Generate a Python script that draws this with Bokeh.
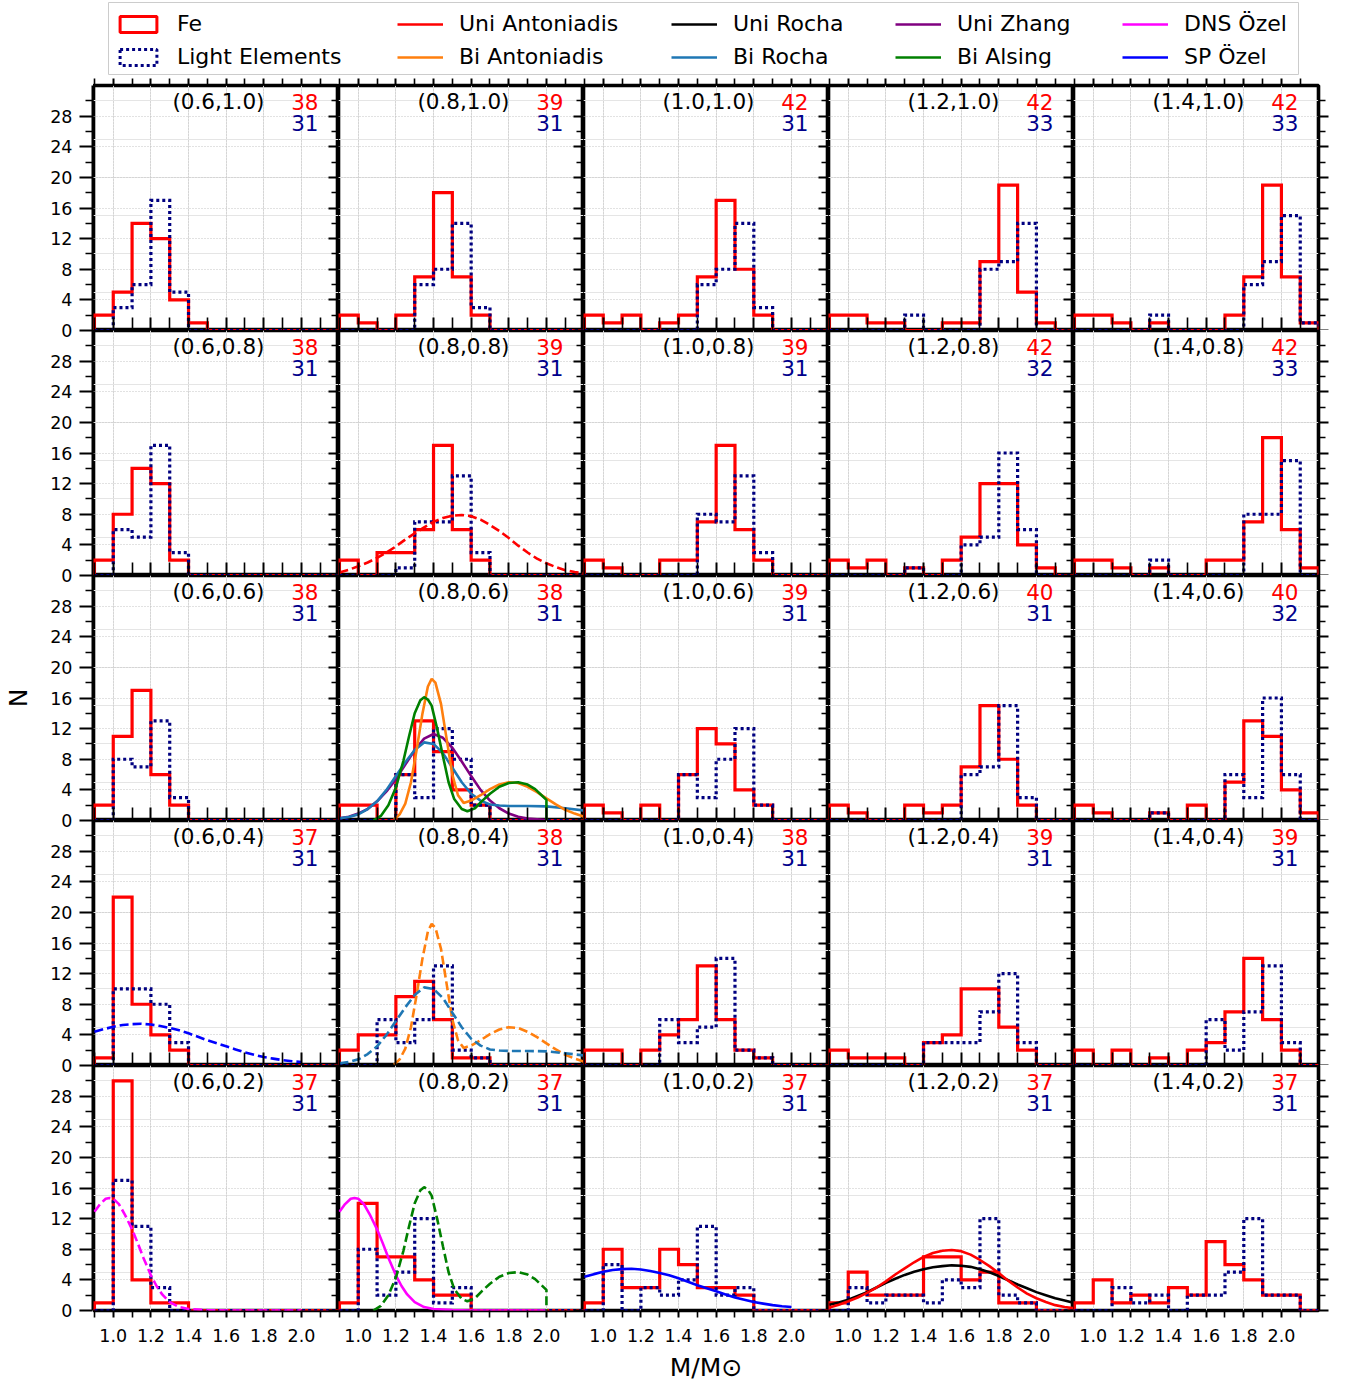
from bokeh.plotting import figure
from bokeh.layouts import gridplot, column, row
from bokeh.models import (Range1d, FixedTicker, LinearAxis, Grid, Legend, LegendItem,
                          NumeralTickFormatter, CustomJSTickFormatter)
from bokeh.embed import file_html
from bokeh.resources import INLINE
from bokeh.core.properties import value

# ---------------- data ----------------
BIN_EDGES = [0.9, 1.0, 1.1, 1.2, 1.3, 1.4, 1.5, 1.6, 1.7, 1.8, 1.9, 2.0, 2.1, 2.2]
COL_A = ["0.6", "0.8", "1.0", "1.2", "1.4"]
ROW_B = ["1.0", "0.8", "0.6", "0.4", "0.2"]

X_MAJOR = [1.0, 1.2, 1.4, 1.6, 1.8, 2.0]
X_MINOR = [0.9, 1.1, 1.3, 1.5, 1.7, 1.9, 2.1]
Y_MAJOR = [0, 4, 8, 12, 16, 20, 24, 28]
Y_MINOR = [2, 6, 10, 14, 18, 22, 26, 30]
Y_TOP = 32

# Fe counts per bin (13 bins, 0.9..2.2), one list per column a=0.6..1.4
FE_B10 = [[2, 5, 14, 12, 4, 1, 0, 0, 0, 0, 0, 0, 0],
          [2, 1, 0, 2, 7, 18, 7, 2, 0, 0, 0, 0, 0],
          [2, 1, 2, 0, 1, 2, 7, 17, 8, 2, 0, 0, 0],
          [2, 2, 1, 1, 0, 0, 1, 1, 9, 19, 5, 1, 0],
          [2, 2, 1, 0, 1, 0, 0, 0, 2, 7, 19, 7, 1]]
LE_B10 = [[0, 3, 6, 17, 5, 0, 0, 0, 0, 0, 0, 0, 0],
          [0, 0, 0, 0, 6, 8, 14, 3, 0, 0, 0, 0, 0],
          [0, 0, 0, 0, 0, 0, 6, 8, 14, 3, 0, 0, 0],
          [0, 0, 0, 0, 2, 0, 0, 0, 8, 9, 14, 0, 0],
          [0, 0, 0, 0, 2, 0, 0, 0, 0, 6, 9, 15, 1]]
FE_B08 = [[2, 8, 14, 12, 2, 0, 0, 0, 0, 0, 0, 0, 0],
          [2, 0, 3, 3, 6, 17, 6, 2, 0, 0, 0, 0, 0],
          [2, 1, 0, 0, 2, 2, 7, 17, 6, 2, 0, 0, 0],
          [2, 1, 2, 0, 1, 0, 2, 5, 12, 12, 4, 1, 0],
          [2, 2, 1, 0, 1, 0, 0, 2, 2, 7, 18, 6, 1]]
LE_B08 = [[0, 6, 5, 17, 3, 0, 0, 0, 0, 0, 0, 0, 0],
          [0, 0, 0, 1, 7, 7, 13, 3, 0, 0, 0, 0, 0],
          [0, 0, 0, 0, 0, 0, 8, 7, 13, 3, 0, 0, 0],
          [0, 0, 0, 0, 1, 0, 0, 4, 5, 16, 6, 0, 0],
          [0, 0, 0, 0, 2, 0, 0, 0, 0, 8, 8, 15, 0]]
FE_B06 = [[2, 11, 17, 6, 2, 0, 0, 0, 0, 0, 0, 0, 0],
          [2, 2, 0, 6, 13, 9, 4, 2, 0, 0, 0, 0, 0],
          [2, 1, 0, 2, 0, 6, 12, 10, 4, 2, 0, 0, 0],
          [2, 1, 0, 0, 2, 1, 2, 7, 15, 8, 2, 0, 0],
          [2, 1, 0, 0, 1, 0, 2, 0, 5, 13, 11, 4, 1]]
LE_B06 = [[0, 8, 7, 13, 3, 0, 0, 0, 0, 0, 0, 0, 0],
          [0, 0, 0, 6, 3, 12, 8, 2, 0, 0, 0, 0, 0],
          [0, 0, 0, 0, 0, 6, 3, 8, 12, 2, 0, 0, 0],
          [0, 0, 0, 0, 0, 0, 0, 6, 7, 15, 3, 0, 0],
          [0, 0, 0, 0, 1, 0, 0, 0, 6, 3, 16, 6, 0]]
FE_B04 = [[1, 22, 8, 4, 2, 0, 0, 0, 0, 0, 0, 0, 0],
          [2, 4, 4, 9, 11, 6, 1, 1, 0, 0, 0, 0, 0],
          [2, 2, 0, 2, 4, 6, 13, 6, 2, 1, 0, 0, 0],
          [2, 1, 1, 1, 0, 3, 4, 10, 10, 5, 2, 0, 0],
          [2, 0, 2, 0, 1, 0, 2, 3, 7, 14, 6, 2, 0]]
LE_B04 = [[0, 10, 10, 8, 3, 0, 0, 0, 0, 0, 0, 0, 0],
          [0, 0, 6, 3, 6, 13, 2, 1, 0, 0, 0, 0, 0],
          [0, 0, 0, 0, 6, 3, 5, 14, 2, 1, 0, 0, 0],
          [0, 0, 0, 0, 0, 3, 3, 3, 7, 12, 3, 0, 0],
          [0, 0, 0, 0, 0, 0, 0, 6, 2, 7, 13, 3, 0]]
FE_B02 = [[1, 30, 4, 1, 1, 0, 0, 0, 0, 0, 0, 0, 0],
          [1, 14, 7, 7, 4, 2, 2, 0, 0, 0, 0, 0, 0],
          [1, 8, 3, 3, 8, 6, 3, 3, 2, 0, 0, 0, 0],
          [1, 5, 2, 2, 2, 7, 7, 4, 5, 1, 1, 0, 0],
          [1, 4, 1, 2, 1, 3, 2, 9, 6, 4, 2, 2, 0]]
LE_B02 = [[0, 17, 11, 3, 0, 0, 0, 0, 0, 0, 0, 0, 0],
          [0, 8, 2, 5, 12, 1, 3, 0, 0, 0, 0, 0, 0],
          [0, 6, 0, 3, 2, 4, 11, 2, 3, 0, 0, 0, 0],
          [0, 3, 1, 2, 2, 1, 4, 3, 12, 2, 1, 0, 0],
          [0, 0, 3, 1, 2, 0, 2, 2, 5, 12, 2, 2, 0]]

FE_ROWS = [FE_B10, FE_B08, FE_B06, FE_B04, FE_B02]
LE_ROWS = [LE_B10, LE_B08, LE_B06, LE_B04, LE_B02]

# model curves
UNI_ANT_X = [0.9, 0.95, 1.0, 1.05, 1.1, 1.15, 1.2, 1.25, 1.3, 1.35, 1.4, 1.45, 1.5, 1.55,
             1.6, 1.65, 1.7, 1.75, 1.8, 1.85, 1.9, 1.95, 2.0, 2.05, 2.1, 2.15, 2.2]
UNI_ANT_Y = [0.4, 0.75, 1.2, 1.7, 2.3, 3.0, 3.8, 4.7, 5.5, 6.3, 7.0, 7.5, 7.8, 7.9,
             7.75, 7.3, 6.6, 5.8, 4.9, 3.9, 3.0, 2.2, 1.6, 1.1, 0.7, 0.45, 0.3]
UNI_ROCHA_X = [0.9, 0.95, 1.0, 1.05, 1.1, 1.15, 1.2, 1.25, 1.3, 1.35, 1.4, 1.45, 1.5, 1.55,
               1.6, 1.65, 1.7, 1.75, 1.8, 1.85, 1.9, 1.95, 2.0, 2.05, 2.1, 2.15, 2.2]
UNI_ROCHA_Y = [0.75, 1.05, 1.4, 1.9, 2.4, 3.0, 3.6, 4.15, 4.65, 5.05, 5.4, 5.65, 5.8, 5.9,
               5.85, 5.7, 5.4, 5.0, 4.5, 3.95, 3.4, 2.9, 2.4, 2.0, 1.6, 1.3, 1.0]
UNI_ZHANG_X = [0.9, 0.95, 1.0, 1.05, 1.1, 1.15, 1.2, 1.25, 1.3, 1.35, 1.4, 1.45, 1.5, 1.55,
               1.6, 1.65, 1.7, 1.75, 1.8, 1.85, 1.9, 2.0]
UNI_ZHANG_Y = [0.3, 0.5, 0.9, 1.5, 2.5, 3.8, 5.4, 7.3, 9.2, 10.7, 11.3, 10.8, 9.5, 7.7,
               5.8, 4.0, 2.6, 1.6, 0.9, 0.5, 0.25, 0.05]
BI_ROCHA_X = [0.9, 0.95, 1.0, 1.05, 1.1, 1.15, 1.2, 1.25, 1.3, 1.35, 1.4, 1.45, 1.5, 1.55,
              1.6, 1.65, 1.7, 1.75, 1.8, 1.9, 2.0, 2.1, 2.2]
BI_ROCHA_Y = [0.3, 0.45, 0.8, 1.5, 2.5, 4.0, 5.8, 7.6, 9.2, 10.2, 10.0, 8.8, 6.9, 5.0,
              3.5, 2.6, 2.1, 1.95, 1.9, 1.9, 1.85, 1.6, 1.3]
BI_ANT_X = [1.19, 1.22, 1.25, 1.28, 1.31, 1.34, 1.37, 1.39, 1.41, 1.44, 1.47, 1.5, 1.53,
            1.56, 1.6, 1.65, 1.7, 1.75, 1.8, 1.85, 1.9, 1.95, 2.0, 2.05, 2.1, 2.15, 2.2]
BI_ANT_Y = [0.1, 0.8, 2.2, 5.0, 9.2, 13.8, 17.5, 18.5, 18.0, 15.2, 10.6, 6.0, 3.3,
            2.3, 2.6, 3.3, 4.1, 4.7, 5.0, 4.9, 4.4, 3.7, 2.9, 2.1, 1.4, 0.9, 0.5]
BI_ALSING_X = [1.08, 1.12, 1.16, 1.2, 1.24, 1.27, 1.3, 1.33, 1.35, 1.37, 1.39, 1.42, 1.45,
               1.48, 1.51, 1.55, 1.58, 1.62, 1.66, 1.7, 1.75, 1.8, 1.85, 1.9, 1.94, 1.97,
               2.0, 2.0]
BI_ALSING_Y = [0.0, 0.6, 2.0, 4.3, 7.8, 11.0, 14.0, 15.7, 16.1, 15.8, 15.0, 11.9, 8.4,
               5.0, 2.8, 1.5, 1.2, 1.6, 2.6, 3.5, 4.4, 4.9, 5.0, 4.7, 4.1, 3.4, 2.7, 0.0]
DNS_OZEL_X = [0.9, 0.93, 0.96, 0.98, 1.0, 1.03, 1.06, 1.1, 1.13, 1.16, 1.2, 1.23, 1.26,
              1.3, 1.35, 1.4, 1.5, 1.6, 1.8, 2.0]
DNS_OZEL_Y = [12.9, 13.9, 14.6, 14.7, 14.6, 13.9, 12.6, 10.6, 8.8, 6.9, 4.6, 3.2, 2.1,
              1.1, 0.45, 0.2, 0.05, 0.0, 0.0, 0.0]
SP_OZEL_X = [0.9, 0.95, 1.0, 1.05, 1.1, 1.15, 1.2, 1.25, 1.3, 1.35, 1.4, 1.45, 1.5, 1.55,
             1.6, 1.65, 1.7, 1.75, 1.8, 1.85, 1.9, 1.95, 2.0]
SP_OZEL_Y = [4.4, 4.75, 5.05, 5.3, 5.4, 5.45, 5.35, 5.15, 4.9, 4.6, 4.2, 3.75, 3.3, 2.9,
             2.5, 2.1, 1.7, 1.4, 1.1, 0.9, 0.7, 0.55, 0.45]

CURVES = {
    "Uni Antoniadis": (UNI_ANT_X, UNI_ANT_Y, "#ff0000"),
    "Bi Antoniadis": (BI_ANT_X, BI_ANT_Y, "#ff7f0e"),
    "Uni Rocha": (UNI_ROCHA_X, UNI_ROCHA_Y, "#000000"),
    "Bi Rocha": (BI_ROCHA_X, BI_ROCHA_Y, "#1f77b4"),
    "Uni Zhang": (UNI_ZHANG_X, UNI_ZHANG_Y, "#800080"),
    "Bi Alsing": (BI_ALSING_X, BI_ALSING_Y, "#008000"),
    "DNS Özel": (DNS_OZEL_X, DNS_OZEL_Y, "#ff00ff"),
    "SP Özel": (SP_OZEL_X, SP_OZEL_Y, "#0000ff"),
}
# (row, col): [(curve, dashed)]
PANEL_CURVES = {
    (1, 1): [("Uni Antoniadis", True)],
    (2, 1): [("Uni Zhang", False), ("Bi Rocha", False), ("Bi Antoniadis", False), ("Bi Alsing", False)],
    (3, 0): [("SP Özel", True)],
    (3, 1): [("Bi Antoniadis", True), ("Bi Rocha", True)],
    (4, 0): [("DNS Özel", True)],
    (4, 1): [("DNS Özel", False), ("Bi Alsing", True)],
    (4, 2): [("SP Özel", False)],
    (4, 3): [("Uni Rocha", False), ("Uni Antoniadis", False)],
}

# ---------------- style ----------------
FONT = "DejaVu Sans"
FW = FH = 245
XMIN, XMAX = 0.895, 2.197
AXW = 93
RIGHT, TOP, BOTTOM = 12, 10, 72
FE_COLOR, LE_COLOR, LE_TEXT = "#ff0000", "#000080", "#00008b"


def make_axis(ticker, maj_in, maj_out, min_in, min_out, labels, fmt=None):
    ax = LinearAxis(ticker=ticker, axis_line_color=None,
                    major_tick_in=maj_in, major_tick_out=maj_out,
                    minor_tick_in=min_in, minor_tick_out=min_out,
                    major_tick_line_width=2, minor_tick_line_width=1.6,
                    major_tick_line_color="black", minor_tick_line_color="black")
    if labels:
        ax.major_label_text_font = FONT
        ax.major_label_text_font_size = "17.5px"
        ax.major_label_text_color = "black"
        ax.major_label_standoff = 11
        if fmt is not None:
            ax.formatter = fmt
    else:
        ax.major_label_text_font_size = "0px"
        ax.major_label_text_color = None
        ax.major_label_standoff = 0
    return ax


def step_xy(counts):
    xs, ys = [BIN_EDGES[0]], [0]
    for i, cnt in enumerate(counts):
        xs += [BIN_EDGES[i], BIN_EDGES[i + 1]]
        ys += [cnt, cnt]
    xs.append(BIN_EDGES[-1])
    ys.append(0)
    return xs, ys


def make_panel(r, c):
    p = figure(frame_width=FW, frame_height=FH,
               x_range=Range1d(XMIN, XMAX), y_range=Range1d(0, Y_TOP),
               x_axis_location=None, y_axis_location=None,
               output_backend="svg", toolbar_location=None,
               min_border_left=0,
               min_border_right=RIGHT if c == 4 else 0,
               min_border_top=TOP if r == 0 else 0,
               min_border_bottom=BOTTOM if r == 4 else 0)
    p.outline_line_color = "black"
    p.outline_line_width = 3.6
    p.background_fill_color = "white"
    p.border_fill_color = "white"

    xt = FixedTicker(ticks=X_MAJOR, minor_ticks=X_MINOR)
    yt = FixedTicker(ticks=Y_MAJOR, minor_ticks=Y_MINOR)
    for dim, tk in ((0, xt), (1, yt)):
        p.add_layout(Grid(dimension=dim, ticker=tk, grid_line_color="#c4c4c4",
                          grid_line_width=1, grid_line_dash="1 2"))

    # right side: neighbour's outward ticks show inside; outer column ticks point out
    if c == 4:
        p.add_layout(make_axis(yt, 0, 10, 0, 7, False), "right")
    else:
        p.add_layout(make_axis(yt, 10, 0, 7, 0, False), "right")
    if r == 4:
        ax = make_axis(xt, 0, 7, 0, 7, True, NumeralTickFormatter(format="0.0"))
        if c == 2:
            ax.axis_label = "M/M\u2299"
            ax.axis_label_text_font = FONT
            ax.axis_label_text_font_size = "25px"
            ax.axis_label_text_font_style = "normal"
            ax.axis_label_text_color = "black"
            ax.axis_label_standoff = 8
        p.add_layout(ax, "below")
    else:
        p.add_layout(make_axis(xt, 13, 0, 13, 0, False), "below")
    if r == 0:
        p.add_layout(make_axis(xt, 0, 7, 0, 7, False), "above")

    fe = FE_ROWS[r][c]
    le = LE_ROWS[r][c]
    fx, fy = step_xy(fe)
    lx, ly = step_xy(le)
    p.line(fx, fy, line_color=FE_COLOR, line_width=3.2, line_join="miter")
    p.line(lx, ly, line_color=LE_COLOR, line_width=3.2, line_dash="3 3", line_join="miter")

    for name, dashed in PANEL_CURVES.get((r, c), []):
        cx, cy, col = CURVES[name]
        p.line(cx, cy, line_color=col, line_width=2.6,
               line_dash="9 4" if dashed else "solid")

    label = "(%s,%s)" % (COL_A[c], ROW_B[r])
    p.text(x=[1.559], y=[29.9], text=[label], text_font=value(FONT),
           text_font_size="21.5px", text_color="black", text_align="center",
           text_baseline="alphabetic")
    p.text(x=[2.091], y=[29.9], text=[str(sum(fe))], text_font=value(FONT),
           text_font_size="21.5px", text_color=FE_COLOR, text_align="right",
           text_baseline="alphabetic")
    p.text(x=[2.091], y=[27.05], text=[str(sum(le))], text_font=value(FONT),
           text_font_size="21.5px", text_color=LE_TEXT, text_align="right",
           text_baseline="alphabetic")
    return p


panels = [[make_panel(r, c) for c in range(5)] for r in range(5)]
grid = gridplot(panels, toolbar_location=None)

# ---------------- shared N axis for the left column ----------------
n_rows = len(ROW_B)
ax_major = [Y_TOP * k + m for k in range(n_rows) for m in Y_MAJOR]
ax_minor = [Y_TOP * k + m for k in range(n_rows) for m in Y_MINOR]
af = figure(frame_width=1, frame_height=FH * n_rows,
            min_border_left=AXW - 1, min_border_right=0,
            min_border_top=TOP, min_border_bottom=BOTTOM,
            x_range=Range1d(0, 1), y_range=Range1d(0, Y_TOP * n_rows),
            x_axis_location=None, y_axis_location=None,
            output_backend="svg", toolbar_location=None)
af.outline_line_color = None
af.background_fill_color = None
af.border_fill_color = "white"
nax = LinearAxis(ticker=FixedTicker(ticks=ax_major, minor_ticks=ax_minor),
                 formatter=CustomJSTickFormatter(code="return String(Math.round(tick) %% %d);" % Y_TOP),
                 axis_line_color="black", axis_line_width=2,
                 major_tick_in=0, major_tick_out=13,
                 minor_tick_in=0, minor_tick_out=7,
                 major_tick_line_width=2, minor_tick_line_width=1.6,
                 major_tick_line_color="black", minor_tick_line_color="black",
                 major_label_text_font=FONT, major_label_text_font_size="17.5px",
                 major_label_text_color="black", major_label_standoff=7,
                 axis_label="N", axis_label_text_font=FONT,
                 axis_label_text_font_size="25px", axis_label_text_font_style="normal",
                 axis_label_text_color="black", axis_label_standoff=14)
af.add_layout(nax, "left")

# ---------------- legend ----------------
lf = figure(frame_width=1190, frame_height=73, min_border_left=108, min_border_right=47,
            min_border_top=2, min_border_bottom=0,
            x_range=Range1d(0, 1), y_range=Range1d(0, 1),
            x_axis_location=None, y_axis_location=None,
            output_backend="svg", toolbar_location=None)
lf.grid.visible = False
lf.outline_line_color = "#cccccc"
lf.outline_line_width = 1
lf.background_fill_color = "white"
lf.border_fill_color = "white"

# legend proxies sit outside the visible range of the legend strip
r_fe = lf.quad(left=[5], right=[6], top=[6], bottom=[5], fill_color="white",
               line_color=FE_COLOR, line_width=3)
r_le = lf.quad(left=[5], right=[6], top=[6], bottom=[5], fill_color="white",
               line_color=LE_COLOR, line_width=3, line_dash="3 3")
line_r = {}
for name in CURVES:
    line_r[name] = lf.line(x=[5, 6], y=[5, 5], line_color=CURVES[name][2], line_width=2.6)

LEG_COLS = [[("Fe", r_fe), ("Light Elements", r_le)],
            [("Uni Antoniadis", line_r["Uni Antoniadis"]), ("Bi Antoniadis", line_r["Bi Antoniadis"])],
            [("Uni Rocha", line_r["Uni Rocha"]), ("Bi Rocha", line_r["Bi Rocha"])],
            [("Uni Zhang", line_r["Uni Zhang"]), ("Bi Alsing", line_r["Bi Alsing"])],
            [("DNS Özel", line_r["DNS Özel"]), ("SP Özel", line_r["SP Özel"])]]
LEG_X = [7, 289, 563, 787, 1014]
for k, items in enumerate(LEG_COLS):
    leg = Legend(items=[LegendItem(label=lab, renderers=[rr]) for lab, rr in items],
                 location=(LEG_X[k], 6), orientation="vertical",
                 glyph_width=46, glyph_height=20, label_standoff=16, spacing=8,
                 padding=0, margin=0, border_line_color=None,
                 background_fill_color=None,
                 label_text_font=FONT, label_text_font_size="22px",
                 label_text_color="black", label_height=20)
    lf.add_layout(leg)

layout = column(lf, row(af, grid))
open("out.html", "w").write(file_html(layout, INLINE))
